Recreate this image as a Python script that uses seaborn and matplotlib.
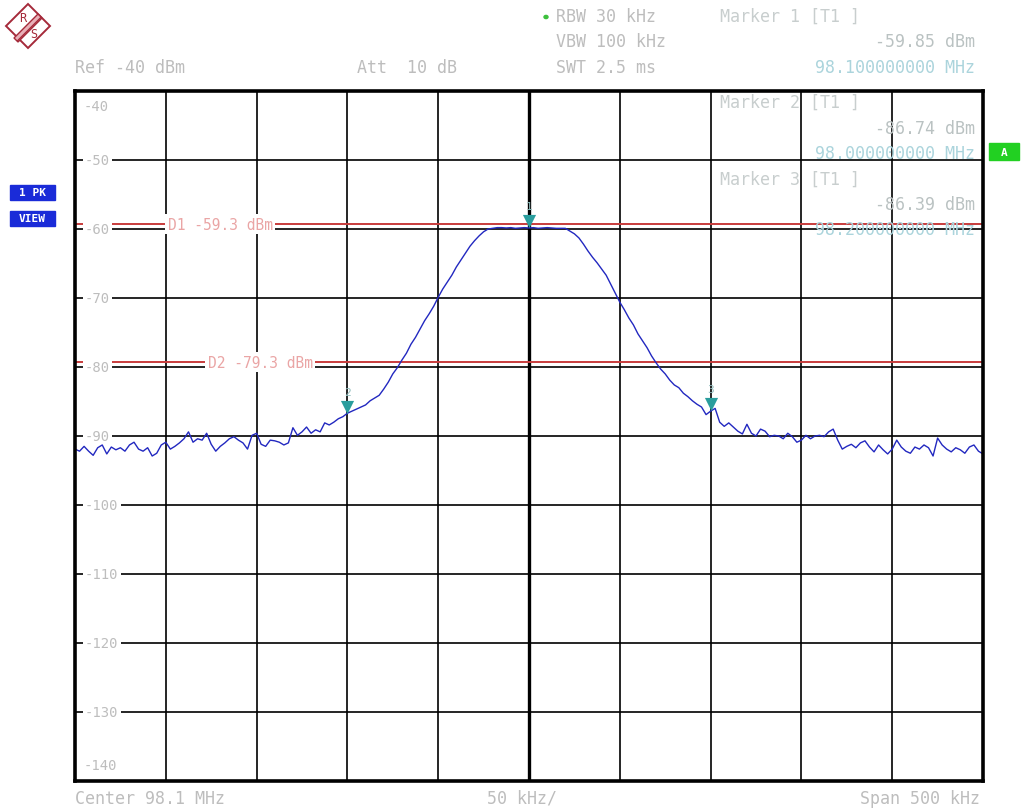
import numpy as np
import pandas as pd
import seaborn as sns
import matplotlib.pyplot as plt
from matplotlib.patches import Polygon, Rectangle
from matplotlib import transforms

# sweep: 201 points from 97.85 to 98.35 MHz (span 500 kHz)
freq_start, freq_stop = 97.85, 98.35
level = [
    -91.9, -92.2, -91.5, -92.2, -92.8, -91.7, -91.3, -92.6, -91.6, -92.0,
    -91.7, -92.2, -91.3, -90.9, -91.9, -92.2, -91.7, -92.9, -92.5, -91.3,
    -90.9, -91.9, -91.5, -91.0, -90.4, -89.4, -90.9, -90.4, -90.6, -89.6,
    -91.2, -92.2, -91.5, -91.0, -90.4, -90.1, -90.6, -91.0, -91.9, -89.9,
    -89.6, -91.2, -91.5, -90.6, -90.7, -90.9, -91.3, -91.0, -88.8, -89.9,
    -89.4, -88.7, -89.6, -89.1, -89.4, -88.1, -88.4, -88.0, -87.5, -87.2,
    -86.7, -86.4, -86.1, -85.8, -85.5, -84.9, -84.5, -84.1, -83.2, -82.2,
    -81.0, -80.1, -79.0, -78.0, -76.7, -75.7, -74.5, -73.3, -72.3, -71.2,
    -69.9, -68.7, -67.7, -66.7, -65.5, -64.5, -63.5, -62.5, -61.7, -61.0,
    -60.4, -60.0, -59.9, -59.8, -59.8, -59.85, -59.8, -59.9, -59.85, -59.8,
    -59.85, -59.8, -59.9, -59.85, -59.8, -59.85, -59.9, -59.9, -59.9, -60.3,
    -60.7, -61.3, -62.2, -63.2, -64.1, -64.9, -65.8, -66.7, -68.0, -69.3,
    -70.6, -71.7, -72.9, -73.9, -75.2, -76.2, -77.2, -78.4, -79.4, -80.3,
    -81.0, -81.9, -82.6, -83.0, -83.8, -84.3, -84.9, -85.4, -85.8, -86.9,
    -86.4, -86.0, -88.0, -88.6, -88.1, -88.7, -89.3, -89.7, -88.3, -89.6,
    -90.0, -89.0, -89.3, -90.1, -89.9, -90.0, -90.4, -89.6, -90.1, -90.9,
    -90.6, -89.9, -90.4, -90.0, -89.9, -90.1, -89.4, -89.0, -90.6, -91.9,
    -91.5, -91.2, -91.7, -91.0, -90.7, -91.6, -92.3, -91.3, -92.0, -92.6,
    -91.9, -90.6, -91.6, -92.2, -92.5, -91.6, -91.9, -91.3, -91.7, -92.9,
    -90.3, -91.3, -91.9, -92.3, -91.7, -92.0, -92.5, -91.6, -91.3, -92.2,
    -92.6,
]
freq = np.linspace(freq_start, freq_stop, len(level))
trace = pd.DataFrame({'freq': freq, 'level': level})

marker_names = ['1', '2', '3']
marker_freq = [98.1, 98.0, 98.2]
marker_level = [-59.85, -86.74, -86.39]

display_names = ['D1', 'D2']
display_level = [-59.3, -79.3]

y_ticks = [-40, -50, -60, -70, -80, -90, -100, -110, -120, -130, -140]

W, H = 1021, 812
sns.set_theme(style='white')
plt.rcParams['font.family'] = ['DejaVu Sans Mono']

fig = plt.figure(figsize=(W / 100, H / 100), dpi=100)
ax = fig.add_axes([75 / W, 1 - 782 / H, 908 / W, 690 / H])

grey = '#bdbdbd'
teal_txt = '#abd4dc'


def ftext(x, y, s, **kw):
    kw.setdefault('color', grey)
    kw.setdefault('fontsize', 12)
    kw.setdefault('va', 'center')
    fig.text(x / W, 1 - y / H, s, **kw)


# grid
ax.set_xlim(freq_start, freq_stop)
ax.set_ylim(-140, -40)
ax.set_xticks(np.round(np.arange(freq_start, freq_stop + 0.001, 0.05), 3))
ax.set_yticks(y_ticks)
ax.grid(True, color='black', lw=1.2)
ax.tick_params(left=False, bottom=False, labelleft=False, labelbottom=False)
ax.axvline(98.1, color='black', lw=2.4, zorder=1)
for sp in ax.spines.values():
    sp.set_color('black')
    sp.set_linewidth(2.6)
    sp.set_zorder(6)

# y labels inside the grid
for v in y_ticks:
    if v == -40:
        ax.text(0.009, v - 1.2, str(v), transform=ax.get_yaxis_transform(), va='top',
                ha='left', fontsize=10, color=grey)
    elif v == -140:
        ax.text(0.009, v + 1.3, str(v), transform=ax.get_yaxis_transform(), va='bottom',
                ha='left', fontsize=10, color=grey)
    else:
        ax.text(0.011, v, str(v), transform=ax.get_yaxis_transform(), va='center',
                ha='left', fontsize=10, color=grey, zorder=4,
                bbox=dict(facecolor='white', edgecolor='none', pad=1.5))

# display lines
label_x = [0.102, 0.146]
for name, lv, lx in zip(display_names, display_level, label_x):
    ax.axhline(lv, color='#c83c3c', lw=1.4, zorder=3)
    ax.text(lx, lv, f'{name} -{abs(lv):.1f} dBm', transform=ax.get_yaxis_transform(),
            va='center', ha='left', fontsize=10.5, color='#eaa5a5', zorder=4,
            bbox=dict(facecolor='white', edgecolor='none', pad=2))

# trace
sns.lineplot(data=trace, x='freq', y='level', ax=ax, color='#2228c0', lw=1.0,
             zorder=5, legend=False)
ax.set_xlabel('')
ax.set_ylabel('')

# markers
tri_off = transforms.offset_copy(ax.transData, fig=fig, x=0, y=7, units='dots')
num_off = transforms.offset_copy(ax.transData, fig=fig, x=0, y=22, units='dots')
ax.scatter(marker_freq, marker_level, marker='v', s=90, color='#2a9d9d',
           transform=tri_off, zorder=7, linewidths=0)
for n, mf, ml in zip(marker_names, marker_freq, marker_level):
    ax.text(mf, ml, n, transform=num_off, ha='center', va='center', fontsize=8,
            color='#8fbcbc', zorder=7)

# marker readouts
ftext(720, 17, 'Marker 1 [T1 ]', color='#c8cece')
ftext(975, 42, f'{marker_level[0]:.2f} dBm', ha='right', color='#bac2c2')
ftext(975, 68, f'{marker_freq[0]:.9f} MHz', ha='right', color=teal_txt)
ftext(720, 103, 'Marker 2 [T1 ]', color='#c8cece')
ftext(975, 129, f'{marker_level[1]:.2f} dBm', ha='right', color='#bac2c2')
ftext(975, 154, f'{marker_freq[1]:.9f} MHz', ha='right', color=teal_txt)
ftext(720, 180, 'Marker 3 [T1 ]', color='#c8cece')
ftext(975, 205, f'{marker_level[2]:.2f} dBm', ha='right', color='#bac2c2')
ftext(975, 230, f'{marker_freq[2]:.9f} MHz', ha='right', color=teal_txt)

# header
ftext(75, 68, 'Ref -40 dBm')
ftext(357, 68, 'Att  10 dB')
fig.patches.append(plt.Circle((546 / W, 1 - 18 / H), 2 / W, transform=fig.transFigure,
                              color='#3cc03c'))
ftext(556, 17, 'RBW 30 kHz')
ftext(556, 42, 'VBW 100 kHz')
ftext(556, 68, 'SWT 2.5 ms')

# footer
ftext(75, 799, 'Center 98.1 MHz')
ftext(487, 799, '50 kHz/')
ftext(980, 799, 'Span 500 kHz', ha='right')

# side boxes
for y0, s in [(186, '1 PK'), (212, 'VIEW')]:
    fig.patches.append(Rectangle((10 / W, 1 - (y0 + 15) / H), 45 / W, 15 / H,
                                 transform=fig.transFigure, color='#1a2bd8'))
    ftext(32, y0 + 7.5, s, ha='center', color='white', fontsize=8, fontweight='bold')
fig.patches.append(Rectangle((989 / W, 1 - 161 / H), 30 / W, 17 / H,
                             transform=fig.transFigure, color='#22d022'))
ftext(1004, 152.5, 'A', ha='center', color='white', fontsize=8, fontweight='bold')

# logo
lg = fig.add_axes([0, 1 - 56 / H, 56 / W, 56 / H])
lg.set_xlim(0, 56)
lg.set_ylim(56, 0)
lg.axis('off')
lg.add_patch(Polygon([(28, 5), (50, 27), (28, 49), (6, 27)], closed=True,
                     fill=False, edgecolor='#a52a3a', lw=1.4))
lg.add_patch(Polygon([(38, 15), (42, 19), (18, 43), (14, 39)], closed=True,
                     facecolor='#e8b0b8', edgecolor='#a52a3a', lw=1.0, hatch='////'))
lg.text(23, 19, 'R', color='#a52a3a', fontsize=8.5, ha='center', va='center')
lg.text(34, 34, 'S', color='#a52a3a', fontsize=8.5, ha='center', va='center')

fig.savefig('out.png', dpi=100)
